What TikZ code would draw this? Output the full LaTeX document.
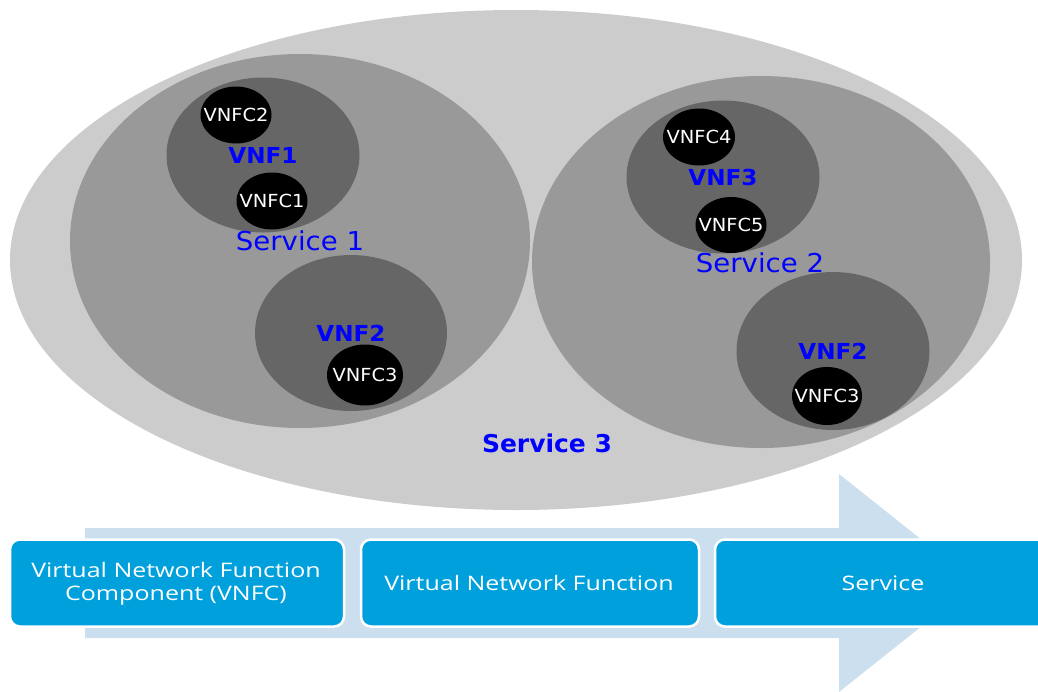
\documentclass[tikz,border=0pt]{standalone}
\usepackage{fontspec}
\setmainfont{DejaVu Sans}
\newfontfamily\boxfont{Open Sans}
\usetikzlibrary{shapes.geometric}
\definecolor{svcthree}{HTML}{CCCCCC}
\definecolor{svc}{HTML}{999999}
\definecolor{vnf}{HTML}{666666}
\definecolor{arrowblue}{HTML}{CCDFEF}
\definecolor{boxblue}{HTML}{00A0DC}
\definecolor{lblue}{HTML}{0000FF}
\tikzset{
  blob/.style={ellipse, inner sep=0pt},
  vnfc/.style={blob, fill=black},
  vnfctxt/.style={text=white, inner sep=0pt, xscale=1.08, font=\fontsize{18}{20}\selectfont},
  vnflbl/.style={text=lblue, font=\fontsize{22}{24}\selectfont\bfseries, inner sep=0pt, xscale=1.05},
  svclbl/.style={text=lblue, font=\fontsize{26}{28}\selectfont, inner sep=0pt, xscale=1.06},
  stepbox/.style={draw=white, line width=2.5pt, fill=boxblue, rounded corners=10pt},
  boxtxt/.style={text=white, inner sep=0pt, align=center, xscale=1.25,
     font=\boxfont\fontsize{20}{23}\selectfont},
}
\begin{document}
\begin{tikzpicture}[x=1pt,y=-1pt]
\useasboundingbox (0,0) rectangle (1038,691);
\clip (0,0) rectangle (1038,691);
% Service 3
\node[blob, fill=svcthree, minimum width=1012pt, minimum height=500pt] (s3) at (516,260) {};
% Service 1
\node[blob, fill=svc, minimum width=460pt, minimum height=374pt] (s1) at (300,241) {};
% Service 2
\node[blob, fill=svc, minimum width=458pt, minimum height=372pt] (s2) at (761,262) {};
% VNF ellipses
\node[blob, fill=vnf, minimum width=193pt, minimum height=155pt] (v1) at (263,155) {};
\node[blob, fill=vnf, minimum width=192pt, minimum height=156pt] (v2a) at (351,333) {};
\node[blob, fill=vnf, minimum width=193pt, minimum height=153pt] (v3) at (723,177) {};
\node[blob, fill=vnf, minimum width=193pt, minimum height=158pt] (v2b) at (833,351) {};
% VNFCs
\node[vnfc, minimum width=71pt, minimum height=57pt] (c2) at (236,115) {};
\node[vnfc, minimum width=71pt, minimum height=57pt] (c1) at (272,201) {};
\node[vnfc, minimum width=76pt, minimum height=61pt] (c3a) at (365,375) {};
\node[vnfc, minimum width=72pt, minimum height=57pt] (c4) at (699,137) {};
\node[vnfc, minimum width=71pt, minimum height=56pt] (c5) at (731,225) {};
\node[vnfc, minimum width=70pt, minimum height=58pt] (c3b) at (827,396) {};
\node[vnfctxt] (t2) at (c2) {VNFC2};
\node[vnfctxt] (t1) at (c1) {VNFC1};
\node[vnfctxt] (t3a) at (c3a) {VNFC3};
\node[vnfctxt] (t4) at (c4) {VNFC4};
\node[vnfctxt] (t5) at (c5) {VNFC5};
\node[vnfctxt] (t3b) at (c3b) {VNFC3};
% labels
\node[vnflbl] (l1) at (263,155) {VNF1};
\node[vnflbl] (l2a) at (351,333) {VNF2};
\node[vnflbl] (l3) at (723,177) {VNF3};
\node[vnflbl] (l2b) at (833,351) {VNF2};
\node[svclbl] (ls1) at (300,241) {Service 1};
\node[svclbl] (ls2) at (760,263) {Service 2};
\node[text=lblue, font=\fontsize{24.5}{28}\selectfont\bfseries, inner sep=0pt, xscale=1.02] (ls3) at (547,443) {Service 3};
% arrow
\fill[arrowblue] (85,528) -- (839,528) -- (839,474) -- (976,583) -- (839,692) -- (839,638) -- (85,638) -- cycle;
% boxes
\node[stepbox, minimum width=334pt, minimum height=87pt] (b1) at (177,583) {};
\node[stepbox, minimum width=338pt, minimum height=87pt] (b2) at (530,583) {};
\node[stepbox, minimum width=340pt, minimum height=87pt] (b3) at (885,583) {};
\node[boxtxt] (bt1) at (176,584) {Virtual Network Function\\Component (VNFC)};
\node[boxtxt] (bt2) at (529,583) {Virtual Network Function};
\node[boxtxt] (bt3) at (883,583) {Service};
\end{tikzpicture}
\end{document}
